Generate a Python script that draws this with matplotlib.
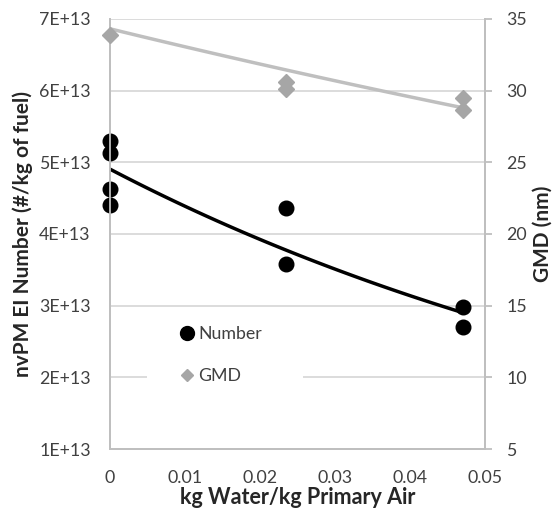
import numpy as np
import matplotlib
matplotlib.use("Agg")
from matplotlib import pyplot as plt
from matplotlib.ticker import FuncFormatter
from matplotlib.patches import Rectangle

plt.rcParams['font.family'] = ['Lato', 'DejaVu Sans']

# data
water_num = [0, 0, 0, 0, 0.0235, 0.0235, 0.047, 0.047]
number = [5.29e13, 5.13e13, 4.62e13, 4.40e13, 4.36e13, 3.58e13, 2.98e13, 2.70e13]
water_gmd = [0, 0.0235, 0.0235, 0.047, 0.047]
gmd = [33.9, 30.6, 30.1, 29.5, 28.65]
# excel exponential trendline for GMD (y = a*exp(b*x))
gmd_trend_a = 34.3
gmd_trend_b = -3.72

grid_col = '#d9d9d9'
spine_col = '#bfbfbf'
txt_col = '#404040'

fig = plt.figure(figsize=(5.59, 5.08), dpi=100)
ax = fig.add_axes([0.197, 0.116, 0.671, 0.847])
ax2 = ax.twinx()

# number trend: exponential fit
xn = np.array(water_num)
b, a = np.polyfit(xn, np.log(number), 1)
xt = np.linspace(0, max(water_num), 100)
ax.plot(xt, np.exp(a) * np.exp(b * xt), color='black', lw=2.5, zorder=3)
pn, = ax.plot(water_num, number, 'o', color='black', ms=10.5, zorder=4,
              label='Number', clip_on=False)

ax2.plot(xt, gmd_trend_a * np.exp(gmd_trend_b * xt), color='#bfbfbf', lw=2.5, zorder=3)
pg, = ax2.plot(water_gmd, gmd, 'D', color='#a6a6a6', ms=8.5, zorder=4,
               label='GMD', clip_on=False)

ax.set_xlim(0, 0.05)
ax.set_ylim(1e13, 7e13)
ax.set_yticks(np.arange(1e13, 7.01e13, 1e13))
ax.yaxis.set_major_formatter(FuncFormatter(lambda v, p: '%dE+13' % round(v / 1e13)))
ax.set_xticks([0, 0.01, 0.02, 0.03, 0.04, 0.05])
ax.set_xticklabels(['0', '0.01', '0.02', '0.03', '0.04', '0.05'])
ax2.set_ylim(5, 35)
ax2.set_yticks(range(5, 36, 5))

ax.grid(axis='y', color=grid_col, lw=1.3)
ax.set_axisbelow(True)
for a_ in (ax, ax2):
    a_.spines['top'].set_visible(False)
    for s in ('left', 'bottom', 'right'):
        a_.spines[s].set_color(spine_col)
        a_.spines[s].set_linewidth(1.3)
ax.tick_params(axis='y', length=0, labelsize=12.8, labelcolor=txt_col, pad=14)
ax.tick_params(axis='x', length=0, labelsize=12.8, labelcolor=txt_col, pad=15)
ax2.tick_params(axis='y', length=5, color=spine_col, width=1.3, labelsize=12.8,
                labelcolor=txt_col, pad=10)

ax.set_xlabel('kg Water/kg Primary Air', fontsize=15.5, fontweight='bold', color='#262626', labelpad=1)
ax.set_ylabel('nvPM EI Number (#/kg of fuel)', fontsize=15, fontweight='bold', color='#262626', labelpad=4)
ax2.set_ylabel('GMD (nm)', fontsize=15, fontweight='bold', color='#262626', labelpad=4)

# white legend box that hides the gridline behind it
ax.add_patch(Rectangle((0.099, 0.126), 0.416, 0.186, transform=ax.transAxes,
                       facecolor='white', edgecolor='none', zorder=1))
leg = ax2.legend(handles=[pn, pg], loc='center left', bbox_to_anchor=(0.15, 0.218),
                 frameon=False, fontsize=12.8, handletextpad=0.0, labelspacing=1.45,
                 borderpad=0, handlelength=1.3)
leg.legend_handles[0].set_markersize(10)
leg.legend_handles[1].set_markersize(6)
for t in leg.get_texts():
    t.set_color(txt_col)

fig.savefig('out.png', dpi=100)
